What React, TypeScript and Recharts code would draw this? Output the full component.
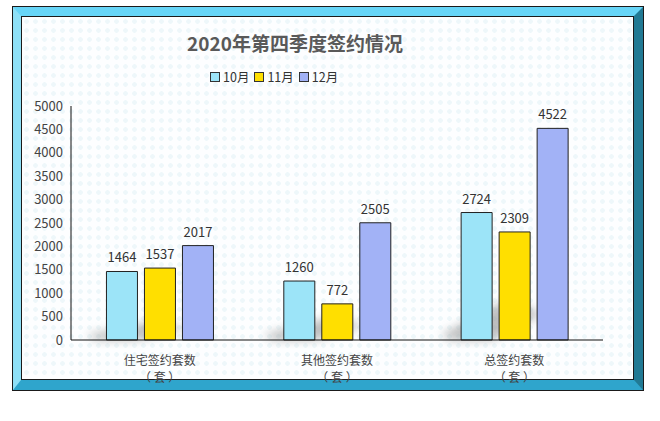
import { Bar, BarChart, LabelList, Rectangle, XAxis, YAxis } from "recharts"

const categories = ['住宅签约套数', '其他签约套数', '总签约套数']
const unit = '（ 套 ）'
const oct = [1464, 1260, 2724]
const nov = [1537, 772, 2309]
const dec = [2017, 2505, 4522]
const yTicks = [0, 500, 1000, 1500, 2000, 2500, 3000, 3500, 4000, 4500, 5000]
const seriesNames = ['10月', '11月', '12月']

const colors = ['#9CE4F8', '#FFDF00', '#A2B2F6']
const font = '"Noto Sans CJK SC", "Noto Sans", sans-serif'

const data = categories.map((name, i) => ({
  name,
  oct: oct[i],
  nov: nov[i],
  dec: dec[i],
}))

const CategoryTick = ({ x, y, payload }: any) => {
  return (
    <g transform={`translate(${x},${y})`}>
      <text x={0} y={0} dy={17} textAnchor="middle" fill="#444" fontSize={12} fontFamily={font}>
        {payload.value}
      </text>
      <text x={0} y={0} dy={34} textAnchor="middle" fill="#444" fontSize={12} fontFamily={font}>
        {unit}
      </text>
    </g>
  )
}

// first bar of each group also paints the soft grey shadow of the group
const ShadowBar = (props: any) => {
  const { x, y, width, height, payload, index } = props
  const base = y + height
  const pxPerUnit = payload.oct ? height / payload.oct : 0
  const groupMax = Math.max(payload.oct, payload.nov, payload.dec)
  const sh = groupMax * pxPerUnit * 0.2
  const id = `shadow-blur-${index}`
  const pts = [
    [x - 20, base - 5],
    [x + width * 1.6, base - sh],
    [x + width * 2.6, base - sh * 0.6],
    [x + width, base],
    [x - 10, base],
  ].map(p => p.join(',')).join(' ')
  return (
    <g>
      <defs>
        <filter id={id} x="-50%" y="-50%" width="200%" height="200%">
          <feGaussianBlur stdDeviation={5} />
        </filter>
      </defs>
      <polygon points={pts} fill="#8a8a8a" opacity={0.55} filter={`url(#${id})`} />
      <Rectangle {...props} />
    </g>
  )
}

const LegendBox = () => {
  return (
    <div style={{ display: 'flex', alignItems: 'center', fontFamily: font, fontSize: 12.5, color: '#333' }}>
      {seriesNames.map((n, i) => (
        <div key={n} style={{ display: 'flex', alignItems: 'center', marginRight: 5 }}>
          <span style={{ width: 8, height: 8, background: colors[i], border: '1px solid #333', marginRight: 3, display: 'inline-block' }} />
          <span>{n}</span>
        </div>
      ))}
    </div>
  )
}

export default function App() {
  return (
    <div style={{ position: 'absolute', left: 0, top: 0, width: 660, height: 421, background: '#fff' }}>
      {/* bevelled frame */}
      <div style={{
        position: 'absolute', left: 12, top: 6, width: 632, height: 385, boxSizing: 'border-box',
        border: '1px solid #1a1a1a',
      }}>
        <div style={{
          position: 'absolute', left: 0, top: 0, right: 0, bottom: 0, boxSizing: 'border-box',
          borderStyle: 'solid', borderWidth: '9px 9px 10px 8px',
          borderColor: '#67D5F7 #217A94 #2FA5CC #8EE0F7',
        }}>
          <div style={{
            position: 'absolute', left: 0, top: 0, right: 0, bottom: 0, boxSizing: 'border-box',
            border: '1px solid #1a1a1a',
            backgroundColor: '#fdfeff',
            backgroundImage: 'radial-gradient(circle, #eef7fa 2px, transparent 2.6px)',
            backgroundSize: '9px 9px',
          }} />
        </div>
      </div>

      <div style={{
        position: 'absolute', left: 185, top: 29, width: 220, textAlign: 'center',
        fontFamily: font, fontSize: 19, fontWeight: 'bold', color: '#595959', whiteSpace: 'nowrap',
      }}>
        2020年第四季度签约情况
      </div>

      <div style={{ position: 'absolute', top: 67, left: 210 }}>
        <LegendBox />
      </div>

      <div style={{ position: 'absolute', left: 0, top: 0 }}>
        <BarChart
          width={660}
          height={421}
          data={data}
          margin={{ top: 106, right: 57, bottom: 41, left: 21 }}
          barCategoryGap="20%"
          barGap={7}
        >
          <XAxis
            dataKey="name"
            tick={<CategoryTick />}
            tickLine={false}
            axisLine={{ stroke: '#111' }}
            height={40}
            interval={0}
          />
          <YAxis
            domain={[0, 5000]}
            ticks={yTicks}
            tickLine={false}
            axisLine={{ stroke: '#111' }}
            width={50}
            interval={0}
            tick={{ fill: '#444', fontSize: 13, fontFamily: font }}
          />
          <Bar dataKey="oct" name={seriesNames[0]} fill={colors[0]} stroke="#222" strokeWidth={1} shape={<ShadowBar />} isAnimationActive={false}>
            <LabelList dataKey="oct" position="top" offset={9} fill="#333" fontSize={13} fontFamily={font} />
          </Bar>
          <Bar dataKey="nov" name={seriesNames[1]} fill={colors[1]} stroke="#222" strokeWidth={1} isAnimationActive={false}>
            <LabelList dataKey="nov" position="top" offset={9} fill="#333" fontSize={13} fontFamily={font} />
          </Bar>
          <Bar dataKey="dec" name={seriesNames[2]} fill={colors[2]} stroke="#222" strokeWidth={1} isAnimationActive={false}>
            <LabelList dataKey="dec" position="top" offset={9} fill="#333" fontSize={13} fontFamily={font} />
          </Bar>
        </BarChart>
      </div>
    </div>
  )
}
